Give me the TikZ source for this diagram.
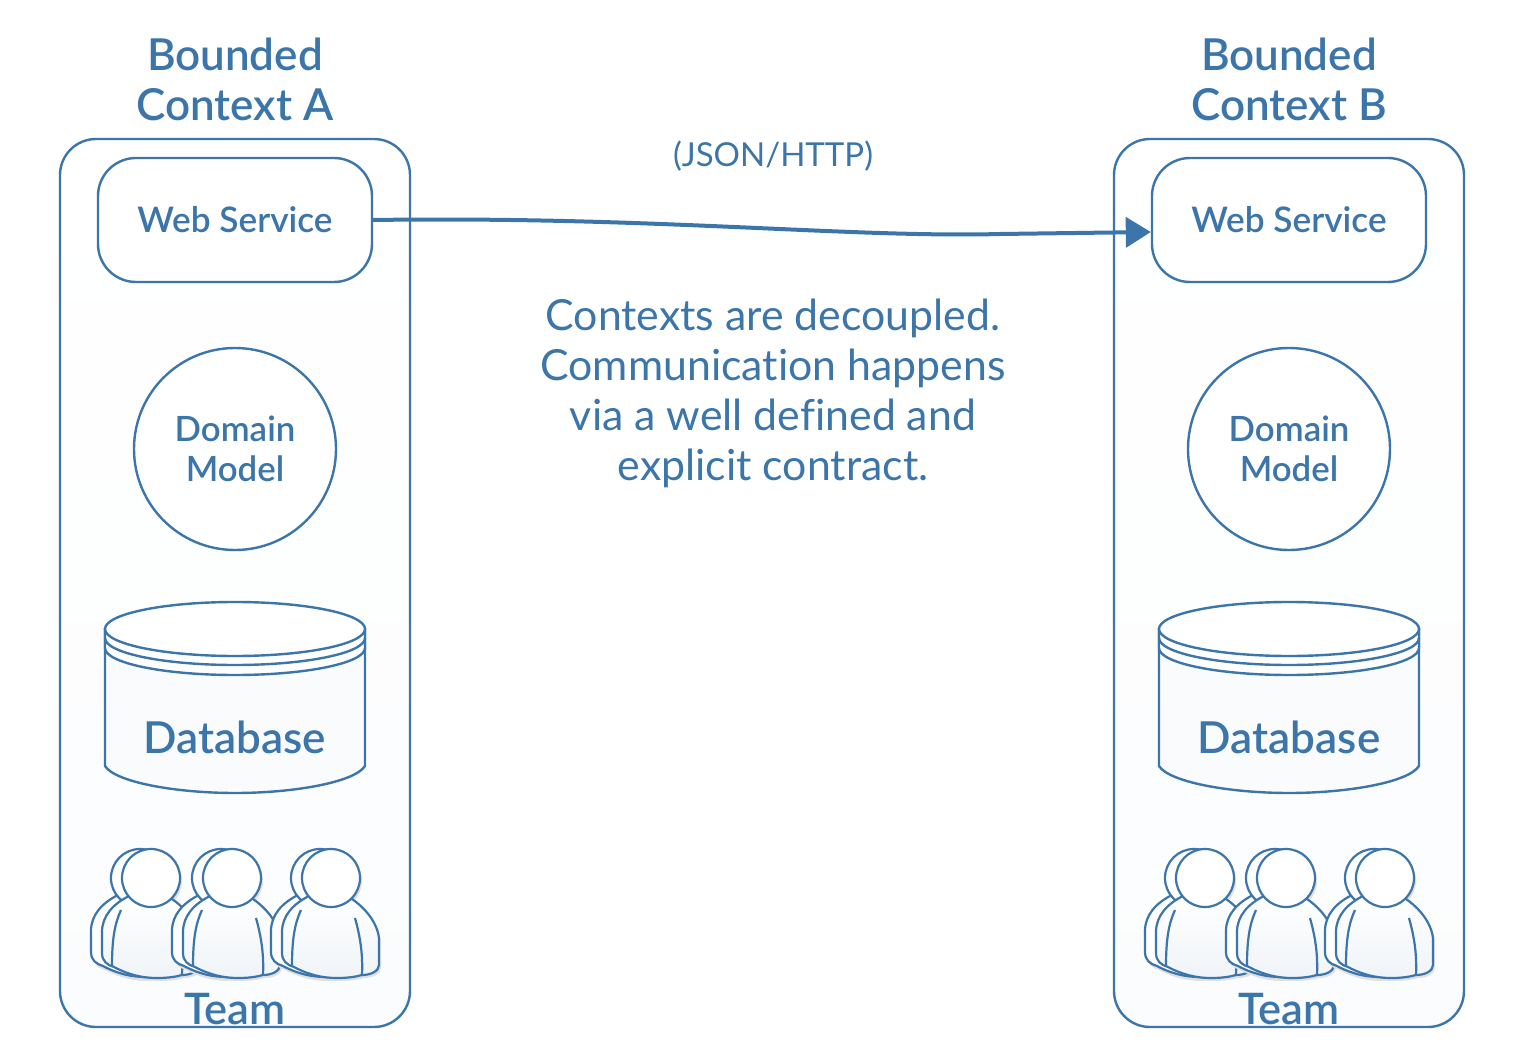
\documentclass[tikz,border=0pt]{standalone}
\usepackage{fontspec}
\setmainfont{Lato}
\newfontfamily\thinfont[Ligatures=NoCommon]{Lato}
\newfontfamily\midfont{Lato Semibold}
\usetikzlibrary{arrows.meta,positioning}
\definecolor{ctxblue}{HTML}{3B75A9}

\newcommand{\bodypath}{(-22,18) .. controls (-38,26) and (-49,38) .. (-49,54) -- (-49,75) .. controls (-49,83) and (-44,87) .. (-37,89) .. controls (-22,97) and (-8,100) .. (6,100) .. controls (16,100) and (24,99) .. (31,97) .. controls (40,97) and (48,93) .. (48,87) -- (48,60) .. controls (46,44) and (34,30) .. (21,21) -- cycle}

\tikzset{
  ctxbox/.style = {draw = ctxblue, line width = 1.2pt, rectangle, rounded corners = 18pt, minimum width = 175pt, minimum height = 444pt, top color = white, bottom color = white!98!ctxblue},
  webbox/.style = {draw = ctxblue, line width = 1.2pt, fill = white, rectangle, rounded corners = 19pt, minimum width = 137pt, minimum height = 62pt, font = \midfont\fontsize{17.6}{20}\selectfont, text = ctxblue},
  domaincircle/.style = {draw = ctxblue, line width = 1.2pt, fill = white, circle, minimum size = 101pt, inner sep = 0pt, align = center, font = \midfont\fontsize{17.4}{20}\selectfont, text = ctxblue},
  dblabel/.style = {font = \midfont\fontsize{22}{24}\selectfont, text = ctxblue},
  titlelabel/.style = {align = center, font = \midfont\fontsize{22}{25}\selectfont, text = ctxblue},
  teamlabel/.style = {font = \midfont\fontsize{21.7}{24}\selectfont, text = ctxblue, inner sep = 0pt},
  thinlabel/.style = {align = center, text = ctxblue},
  pics/person/.style = {code = {
    % shadows first, then the back figure, then the front one
    \fill[black!12, shift = {(-9,3)}] \bodypath;
    \fill[black!12, shift = {(2,3)}] \bodypath;
    \fill[black!12] (2,3) circle (29);
    \draw[ctxblue, line width = 1.1pt, fill = white, shift = {(-11,-1)}] \bodypath;
    \draw[ctxblue, line width = 1.1pt, fill = white] (-11,0) circle (29);
    \draw[ctxblue, line width = 1.1pt, top color = white, bottom color = white!92!ctxblue] \bodypath;
    \draw[ctxblue, line width = 1.1pt] (-30,32) .. controls (-36,45) and (-39,60) .. (-39,88);
    \draw[ctxblue, line width = 1.1pt] (24,40) .. controls (29,58) and (32,75) .. (31,97);
    \draw[ctxblue, line width = 1.1pt, fill = white] (0,0) circle (29);
  }},
  pics/dbstack/.style = {code = {
    \draw[ctxblue, line width = 1.2pt, fill = white!97!ctxblue] (-130,0) -- (-130,137) .. controls (-120,153) and (-60,164) .. (0,164) .. controls (60,164) and (120,153) .. (130,137) -- (130,0) -- cycle;
    \draw[ctxblue, line width = 1.2pt, fill = white] (-130,19) arc[x radius = 130, y radius = 27, start angle = 180, end angle = 0] -- (130,0) -- (-130,0) -- cycle;
    \draw[ctxblue, line width = 1.2pt] (-130,9) arc[x radius = 130, y radius = 27, start angle = 180, end angle = 0];
    \draw[ctxblue, line width = 1.2pt, fill = white] (0,0) ellipse (130 and 27);
  }}
}

\begin{document}
\begin{tikzpicture}[x = 0.5pt, y = -0.5pt]
\useasboundingbox (0,0) rectangle (1527,1064);
\foreach \ctx/\xs in {A/235, B/1289} {
  \node[ctxbox] (ctx\ctx) at (\xs,583) {};
  \node[titlelabel] (title\ctx) at (\xs,79) {Bounded\\Context \ctx};
  \node[webbox] (web\ctx) at (\xs,220) {\raisebox{0.8pt}{Web Service}};
  \node[domaincircle] (domain\ctx) at (\xs,449) {\raisebox{0.8pt}{Domain}\\\raisebox{0.8pt}{Model}};
  \pic at (\xs,629) {dbstack};
  \node[dblabel] (db\ctx) at (\xs,737) {Database};
  \pic at (\xs-84,878) {person};
  \pic at (\xs-3,878) {person};
  \pic at (\xs+96,878) {person};
  \node[teamlabel, anchor = base] (team\ctx) at (\xs,1024) {Team};
}
\node[thinlabel, font = \thinfont\fontsize{16.5}{20}\selectfont] (proto) at (773,156) {(JSON/HTTP)};
\node[thinlabel, font = \thinfont\fontsize{21.4}{25}\selectfont] (note) at (773,393) {Contexts are decoupled.\\Communication happens\\via a well defined and\\explicit contract.};
\draw[ctxblue, line width = 2pt, -{Triangle[length = 12.5pt, width = 15pt]}] (webA.east) .. controls (650,216) and (850,238) .. (1000,234) -- ([yshift = -6pt]webB.west);
\end{tikzpicture}
\end{document}
